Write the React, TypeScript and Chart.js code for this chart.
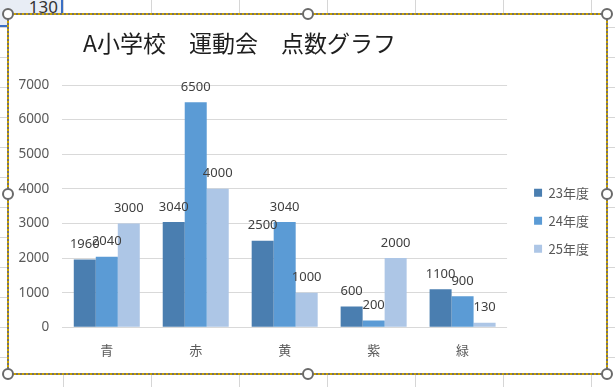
import React, { useEffect, useRef } from "react";
import { Chart, registerables } from "chart.js";

Chart.register(...registerables);

const TITLE = "A小学校　運動会　点数グラフ";
const CATEGORIES = ["青", "赤", "黄", "紫", "緑"];
const SERIES_NAMES = ["23年度", "24年度", "25年度"];
const FY23 = [1960, 3040, 2500, 600, 1100];
const FY24 = [2040, 6500, 3040, 200, 900];
const FY25 = [3000, 4000, 1000, 2000, 130];
const SERIES_VALUES = [FY23, FY24, FY25];
const SERIES_COLORS = ["#4a7eb0", "#5b9bd5", "#adc6e6"];
const Y_MIN = 0;
const Y_MAX = 7000;
const Y_STEP = 1000;

const LATIN = "'Noto Sans', 'Noto Sans CJK JP', sans-serif";
const CJK = "'Noto Sans CJK JP', 'Noto Sans', sans-serif";

const titlePlugin = {
  id: "fixedTitle",
  afterDraw(chart: any, _args: any, opts: any) {
    const ctx = chart.ctx;
    ctx.save();
    ctx.font = opts.font;
    ctx.fillStyle = opts.color;
    ctx.textAlign = "left";
    ctx.textBaseline = "middle";
    ctx.fillText(opts.text, opts.x, opts.y);
    ctx.restore();
  },
};

const valueLabelPlugin = {
  id: "valueLabels",
  afterDatasetsDraw(chart: any, _args: any, opts: any) {
    const ctx = chart.ctx;
    ctx.save();
    ctx.font = opts.font;
    ctx.fillStyle = opts.color;
    ctx.textAlign = "center";
    ctx.textBaseline = "alphabetic";
    chart.data.datasets.forEach((ds: any, i: number) => {
      const meta = chart.getDatasetMeta(i);
      meta.data.forEach((el: any, j: number) => {
        ctx.fillText(String(ds.data[j]), el.x, el.y - opts.offset);
      });
    });
    ctx.restore();
  },
};

function Handle({ x, y }: { x: number; y: number }) {
  return (
    <div
      style={{
        position: "absolute",
        left: x - 6,
        top: y - 6,
        width: 12,
        height: 12,
        boxSizing: "border-box",
        borderRadius: "50%",
        border: "2px solid #6a6a6a",
        background: "#ffffff",
      }}
    />
  );
}

export default function App() {
  const canvasRef = useRef<HTMLCanvasElement | null>(null);

  useEffect(() => {
    if (!canvasRef.current) return;
    const chart = new Chart(canvasRef.current, {
      type: "bar",
      data: {
        labels: CATEGORIES,
        datasets: SERIES_NAMES.map((name, i) => ({
          label: name,
          data: SERIES_VALUES[i],
          backgroundColor: SERIES_COLORS[i],
          borderWidth: 0,
          categoryPercentage: 0.742,
          barPercentage: 1.0,
          yAxisID: "y",
        })),
      },
      plugins: [titlePlugin, valueLabelPlugin],
      options: {
        animation: false,
        responsive: false,
        devicePixelRatio: 1,
        layout: { padding: { top: 70, right: 7, bottom: 0, left: 0 } },
        plugins: {
          title: { display: false },
          tooltip: { enabled: false },
          legend: {
            display: true,
            position: "right",
            align: "center",
            fullSize: false,
            title: {
              display: true,
              text: " ",
              font: { size: 12, family: LATIN },
              padding: { top: 14.7, bottom: 0 },
            },
            labels: {
              boxWidth: 8,
              boxHeight: 8,
              padding: 15,
              color: "#595959",
              font: { size: 13, family: CJK },
            },
          },
          fixedTitle: {
            text: TITLE,
            font: `23px ${CJK}`,
            color: "#1e1e1e",
            x: 74,
            y: 28,
          },
          valueLabels: {
            font: `13px ${LATIN}`,
            color: "#404040",
            offset: 11.5,
          },
        } as any,
        scales: {
          x: {
            grid: { display: false, drawTicks: false },
            border: { display: false },
            ticks: {
              color: "#595959",
              font: { size: 13, family: CJK },
              padding: 15,
            },
            afterFit: (s: any) => {
              s.height = 45.7;
            },
          },
          y: {
            position: "left",
            min: Y_MIN,
            max: Y_MAX,
            ticks: {
              stepSize: Y_STEP,
              color: "#595959",
              font: { size: 13.5, family: LATIN },
              padding: 13,
              callback: (v: any) => String(v),
            },
            grid: { color: "#d9d9d9", drawTicks: false, lineWidth: 1 },
            border: { display: false },
            afterFit: (s: any) => {
              s.width = 53.3;
            },
          },
          yR: {
            type: "linear",
            position: "right",
            display: true,
            grid: { display: false, drawTicks: false },
            border: { display: false },
            ticks: { display: false },
            afterFit: (s: any) => {
              s.width = 12;
            },
          },
        },
      },
    });
    return () => chart.destroy();
  }, []);

  const handles = [
    [8, 14], [308, 14], [607, 14],
    [8, 194], [607, 194],
    [8, 374], [308, 374], [607, 374],
  ];

  return (
    <div>
      <div
        style={{
          position: "absolute",
          left: 0,
          top: 0,
          width: 615,
          height: 387,
          overflow: "hidden",
          background: "#ffffff",
          backgroundImage:
            "linear-gradient(to right, #d6d6d6 1px, transparent 1px), linear-gradient(to bottom, #d6d6d6 1px, transparent 1px)",
          backgroundSize: "88px 100%, 100% 30px",
          backgroundPosition: "63px 0, 0 27px",
        }}
      />
      <div
        style={{
          position: "absolute",
          left: 0,
          top: 0,
          width: 62,
          height: 26,
          background: "#e8edf5",
        }}
      />
      <div
        style={{
          position: "absolute",
          left: 0,
          top: -3,
          width: 58,
          textAlign: "right",
          font: `17px ${LATIN}`,
          color: "#333333",
          lineHeight: "20px",
        }}
      >
        130
      </div>
      <div style={{ position: "absolute", left: 61, top: 0, width: 2, height: 27, background: "#3a6fc4" }} />
      <div style={{ position: "absolute", left: 0, top: 25, width: 63, height: 2, background: "#3a6fc4" }} />

      <div
        style={{
          position: "absolute",
          left: 7,
          top: 13,
          width: 601,
          height: 362,
          boxSizing: "border-box",
          border: "2px dotted #c9a100",
          background: "#707070",
        }}
      >
        <div style={{ width: 597, height: 358, background: "#ffffff" }}>
          <canvas
            ref={canvasRef}
            width={597}
            height={358}
            style={{ display: "block", width: 597, height: 358 }}
          />
        </div>
      </div>
      {handles.map(([x, y], i) => (
        <Handle key={i} x={x} y={y} />
      ))}
    </div>
  );
}
